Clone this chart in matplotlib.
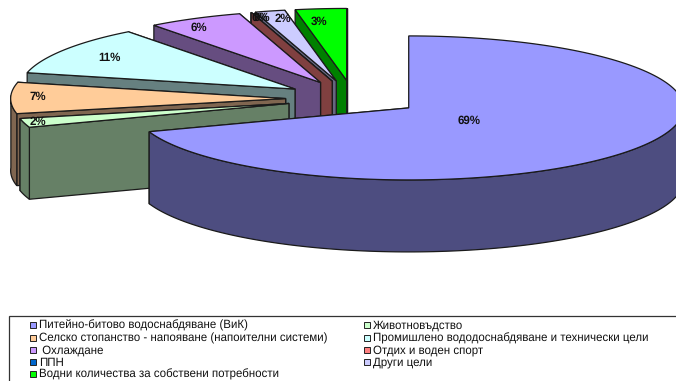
import matplotlib
matplotlib.use('Agg')
import matplotlib.pyplot as plt
from matplotlib.patches import Polygon, Rectangle
import numpy as np

plt.rcParams['font.family'] = ['Liberation Sans', 'DejaVu Sans']
plt.rcParams['text.hinting'] = 'none'

# данни за водовземането по предназначение, %
categories = ['Питейно-битово водоснабдяване (ВиК)', 'Животновъдство',
              'Селско стопанство - напояване (напоителни системи)',
              'Промишлено вододоснабдяване и технически цели',
              ' Охлаждане', 'Отдих и воден спорт', 'ППН', 'Други цели',
              'Водни количества за собствени потребности']
values = [69, 2, 7, 11, 6, 0, 0, 2, 3]
percent_labels = ['69%', '2%', '7%', '11%', '6%', '0%', '0%', '2%', '3%']
top_colors = ['#9999FF', '#CCFFCC', '#FFCC99', '#CCFFFF', '#CC99FF',
              '#FF8080', '#0066CC', '#CCCCFF', '#00FF00']
side_colors = ['#4D4D80', '#668066', '#806650', '#668080', '#664D80',
               '#804040', '#003366', '#666680', '#008000']

# геометрия на наклонената пита
cx, cy = 353, 98
rx, ry = 275, 72
depth = 72
explode = 0.245
edge = '#1a1a1a'

label_xy = [(469, 121), (38, 122), (38, 97), (109, 58), (199, 28),
            (260, 18), (262, 18), (283, 19), (319, 22)]

fig = plt.figure(figsize=(6.76, 3.81), dpi=100)
ax = fig.add_axes([0, 0, 1, 1])
ax.set_xlim(0, 676)
ax.set_ylim(381, 0)
ax.axis('off')


def view_angle(ang):
    # леко изкривяване на ъглите заради перспективата
    back = max(0, 2 * np.pi - ang - 0.2) / 0.3
    return ang + 0.04 * min(1, back) * min(1, ang / 0.5)


def point(apex, ang):
    a = view_angle(ang)
    return apex + np.array([rx * np.sin(a), -ry * np.cos(a)])


def draw_slice(start, end, top, side, z):
    mid = (start + end) / 2
    apex = np.array([cx + explode * rx * np.sin(mid), cy - explode * ry * np.cos(mid)])
    down = np.array([0, depth])

    # радиални стени: първо далечната, после близката
    walls = []
    for ang in (start, end):
        p = point(apex, ang)
        walls.append(np.array([apex, p, p + down, apex + down]))
    walls.sort(key=lambda w: w[:, 1].mean())
    for w in walls:
        ax.add_patch(Polygon(w, closed=True, fc=side, ec=edge, lw=0.9, zorder=z))

    # външната стена се вижда само в предната половина
    a0, a1 = max(start, np.pi / 2), min(end, 3 * np.pi / 2)
    if a1 > a0:
        t = np.linspace(a0, a1, 120)
        arc = np.array([point(apex, a) for a in t])
        ax.add_patch(Polygon(np.vstack([arc, arc[::-1] + down]), closed=True,
                             fc=side, ec=edge, lw=0.9, zorder=z))

    # горна повърхност
    if end > start:
        t = np.linspace(start, end, 160)
        arc = np.array([point(apex, a) for a in t])
        ax.add_patch(Polygon(np.vstack([apex, arc]), closed=True,
                             fc=top, ec=edge, lw=0.9, zorder=z))


edges = np.cumsum([0] + values) / sum(values) * 2 * np.pi

# рисуване отзад напред: резените вдясно горе са най-отзад
for z, i in enumerate([8, 7, 6, 5, 4, 3, 2, 1, 0]):
    draw_slice(edges[i], edges[i + 1], top_colors[i], side_colors[i], z + 2)

for lab, (x, y) in zip(percent_labels, label_xy):
    ax.text(x, y, lab, fontsize=8.3, fontweight='bold', ha='center', va='center',
            color='#111111', zorder=30)

# легенда
ax.add_patch(Rectangle((9, 316), 680, 70, fc='white', ec='#333333', lw=0.9, zorder=20))
rows_y = [325, 338, 350, 362, 374]
col_x = [33, 367]
for i, name in enumerate(categories):
    if i == 8:
        x, y = col_x[0], rows_y[4]
    else:
        x, y = col_x[i % 2], rows_y[i // 2]
    ax.add_patch(Rectangle((x - 3, y - 3), 6, 6, fc=top_colors[i], ec='#222222', lw=0.7, zorder=21))
    ax.text(x + 6, y + 0.7, name, fontsize=8.3, ha='left', va='center', color='#111111', zorder=21)

fig.savefig('out.png', dpi=100)
